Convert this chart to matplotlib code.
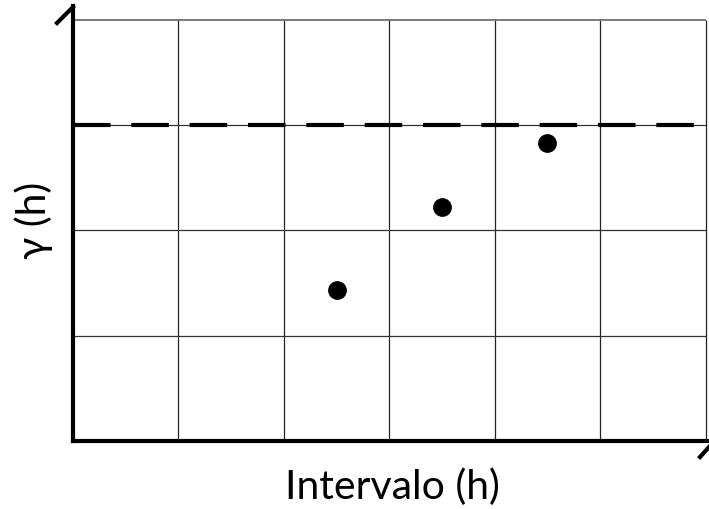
import matplotlib
matplotlib.use("Agg")
import matplotlib.pyplot as plt
from matplotlib.lines import Line2D

# data
lag = [2.5, 3.5, 4.5]
gamma = [1.43, 2.22, 2.83]
sill = 3.0
x_grid = [0, 1, 2, 3, 4, 5, 6]
y_grid = [0, 1, 2, 3, 4]

plt.rcParams["font.family"] = ["Lato", "DejaVu Sans"]

W, H = 709, 510
fig = plt.figure(figsize=(W / 100, H / 100), dpi=100)
ax = fig.add_axes([73 / W, 1 - 442 / H, (W - 73) / W, (442 - 7) / H])
ax.set_xlim(0, 6.033)
ax.set_ylim(0, 4.133)

x0, x1 = x_grid[0], x_grid[-1]
y0, y1 = y_grid[0], y_grid[-1]
ax.vlines(x_grid[1:], y0, y1, color="#222222", lw=0.9, zorder=1)
ax.hlines(y_grid[1:-1], x0, x1, color="#333333", lw=0.9, zorder=1)
ax.hlines(y_grid[-1], x0, x1, color="#666666", lw=1.2, zorder=1)

ax.hlines(sill, x0, x1, color="black", lw=3, linestyle=(0, (9, 5)), zorder=2)
ax.plot(lag, gamma, "o", color="black", markersize=12.5, zorder=3)

for side in ["top", "right"]:
    ax.spines[side].set_visible(False)
for side in ["left", "bottom"]:
    ax.spines[side].set_linewidth(3)
    ax.spines[side].set_color("black")
ax.set_xticks([])
ax.set_yticks([])

# small arrow-like strokes at the axis ends
def px(x, y):
    return x / W, 1 - y / H

for (xa, ya), (xb, yb) in [((57, 24), (73, 8)), ((700, 458), (709, 448))]:
    a, b = px(xa, ya)
    c, d = px(xb, yb)
    fig.add_artist(Line2D([a, c], [b, d], color="black", lw=3))

fig.text(392 / W, 1 - 487 / H, "Intervalo (h)", fontsize=29.5, ha="center", va="center")
fig.text(34 / W, 1 - 220 / H, "γ (h)", fontsize=29.5, ha="center", va="center", rotation=90)

fig.savefig("out.png", dpi=100)
